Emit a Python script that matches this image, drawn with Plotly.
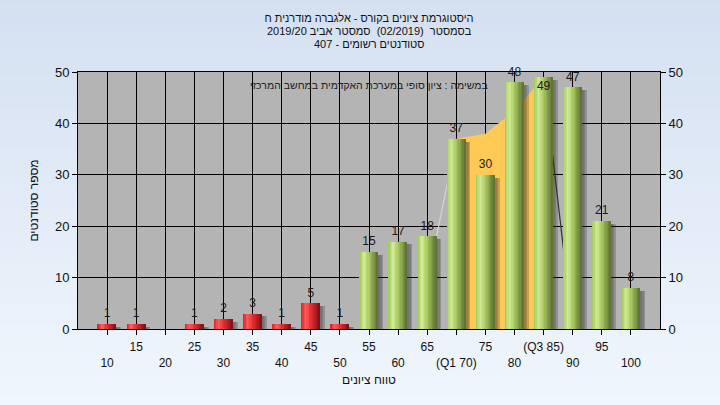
import plotly.graph_objects as go

# ---------------- data ----------------
grades = [10, 15, 20, 25, 30, 35, 40, 45, 50, 55, 60, 65, 70, 75, 80, 85, 90, 95, 100]
counts = [1, 1, 0, 1, 2, 3, 1, 5, 1, 15, 17, 18, 37, 30, 48, 49, 47, 21, 8]
pass_grade = 55
q1_grade = 70
q3_grade = 85
y_ticks = [0, 10, 20, 30, 40, 50]
area_x = [65, 70, 75, 80, 85, 90]
area_y = [9, 37, 38, 42.5, 49, 0]

title_lines = [
    "היסטוגרמת ציונים בקורס - אלגברה מודרנית ח",
    "בסמסטר  (02/2019)  סמסטר אביב 2019/20",
    "סטודנטים רשומים - 407",
]
note_text = "במשימה : ציון סופי במערכת האקדמית במחשב המרכזי"
x_title = "טווח ציונים"
y_title = "מספר סטודנטים"

# ---------------- styling helpers ----------------
FONT = "Liberation Sans, DejaVu Sans, sans-serif"
Y_MAX = 50
BAR_W = 3.15
N_SLICES = 14
LABEL_LIFT = 0.7

green_stops = [(0.0, (160, 200, 86)), (0.25, (208, 234, 150)), (0.5, (172, 204, 100)),
               (0.8, (124, 150, 70)), (1.0, (90, 110, 46))]
red_stops = [(0.0, (214, 30, 38)), (0.25, (255, 92, 92)), (0.5, (232, 48, 52)),
             (0.8, (176, 28, 32)), (1.0, (120, 16, 20))]


def interp(stops, t):
    for (t0, c0), (t1, c1) in zip(stops[:-1], stops[1:]):
        if t0 <= t <= t1:
            f = (t - t0) / (t1 - t0) if t1 > t0 else 0
            return "rgb(%d,%d,%d)" % tuple(round(a + (b - a) * f) for a, b in zip(c0, c1))
    return "rgb(%d,%d,%d)" % stops[-1][1]


def tick_label(g, i):
    lab = str(g)
    if g == q1_grade:
        lab = "(Q1 %d)" % g
    if g == q3_grade:
        lab = "(Q3 %d)" % g
    return ("\u00a0<br>" + lab) if i % 2 == 0 else lab


fig = go.Figure()

# yellow inter-quartile area (drawn on base subplot, below the bars)
i1 = area_x.index(q1_grade)
i3 = area_x.index(q3_grade)
fig.add_trace(go.Scatter(x=area_x[i1:i3 + 1], y=area_y[i1:i3 + 1], mode="lines",
                         line=dict(width=0), fill="tozeroy", fillcolor="#ffc955",
                         hoverinfo="skip", showlegend=False, xaxis="x", yaxis="y"))
fig.add_trace(go.Scatter(x=area_x[:i1 + 1], y=area_y[:i1 + 1], mode="lines",
                         line=dict(width=1.2, color="#d6d6d6"), hoverinfo="skip",
                         showlegend=False, xaxis="x", yaxis="y"))
fig.add_trace(go.Scatter(x=area_x[i3:], y=area_y[i3:], mode="lines",
                         line=dict(width=1.2, color="#333333"), hoverinfo="skip",
                         showlegend=False, xaxis="x", yaxis="y"))

# soft shadows
for dx, op in [(0.35, 0.12), (0.6, 0.18), (0.85, 0.25)]:
    fig.add_trace(go.Bar(x=grades, y=[c + 0.45 for c in counts], base=-1.0,
                         width=BAR_W, offset=-BAR_W / 2 + dx,
                         marker=dict(color="rgba(40,40,40,%.2f)" % op, line=dict(width=0)),
                         hoverinfo="skip", showlegend=False, xaxis="x", yaxis="y2"))

# gradient cylinder bars built from slices
sw = BAR_W / N_SLICES
for k in range(N_SLICES):
    t = (k + 0.5) / N_SLICES
    cols = [interp(red_stops if g < pass_grade else green_stops, t) for g in grades]
    fig.add_trace(go.Bar(x=grades, y=counts, width=sw * 1.02,
                         offset=-BAR_W / 2 + k * sw,
                         marker=dict(color=cols, line=dict(width=0)),
                         hoverinfo="skip", showlegend=False, xaxis="x", yaxis="y2"))

# value labels
label_text = [str(c) if c > 0 else "" for c in counts]
label_inside = [c + 2 > Y_MAX for c in counts]
label_pos = ["bottom center" if ins else "top center" for ins in label_inside]
label_y = [c - LABEL_LIFT if ins else c + LABEL_LIFT for c, ins in zip(counts, label_inside)]
fig.add_trace(go.Scatter(x=grades, y=label_y, mode="text", text=label_text,
                         textposition=label_pos,
                         textfont=dict(family=FONT, size=12, color="#1a1a1a"),
                         cliponaxis=False, hoverinfo="skip", showlegend=False,
                         xaxis="x", yaxis="y2"))

# paper gradient background bands
n_b = 40
top_c, bot_c = (212, 224, 241), (240, 246, 253)
shapes = []
for b in range(n_b):
    f = b / (n_b - 1)
    c = tuple(round(a + (bb - a) * f) for a, bb in zip(top_c, bot_c))
    shapes.append(dict(type="rect", xref="paper", yref="paper",
                       x0=-0.2, x1=1.2, y0=1.3 - (b + 1) * 1.6 / n_b, y1=1.3 - b * 1.6 / n_b + 0.002,
                       fillcolor="rgb(%d,%d,%d)" % c, line=dict(width=0), layer="below"))
shapes.append(dict(type="rect", xref="x domain", yref="y domain", x0=0, x1=1, y0=0, y1=1,
                   fillcolor="#b4b4b4", line=dict(width=0), layer="below"))

axis_font = dict(family=FONT, size=12, color="#111111")
title_font = dict(family=FONT, size=11, color="#111111")

# title: first line as layout title, following lines as annotations 13 px apart
annotations = []
for j, line in enumerate(title_lines[1:], start=1):
    annotations.append(dict(text=line, xref="paper", yref="paper", x=0.5, y=1,
                            xanchor="center", yanchor="middle", yshift=54 - 13 * j,
                            showarrow=False, font=title_font))
annotations.append(dict(text=note_text, xref="paper", yref="paper", x=0.5, y=1,
                        xanchor="center", yanchor="top", yshift=-5, showarrow=False,
                        font=dict(family=FONT, size=10.5, color="#222222")))

fig.update_layout(
    width=720, height=405,
    margin=dict(l=78, r=60, t=72, b=76),
    paper_bgcolor="#e6eef9",
    plot_bgcolor="#b4b4b4",
    barmode="overlay",
    bargap=0,
    showlegend=False,
    font=dict(family=FONT, size=12, color="#111111"),
    title=dict(text=title_lines[0], x=0.5, xref="paper", xanchor="center",
               y=1 - 18 / 405, yref="container", yanchor="middle",
               font=title_font),
    xaxis=dict(range=[5, 105], tickvals=grades,
               ticktext=[tick_label(g, i) for i, g in enumerate(grades)],
               tickangle=0, ticklabelstandoff=2,
               ticks="outside", ticklen=5, tickcolor="black", tickfont=axis_font,
               showgrid=True, gridcolor="black", gridwidth=1,
               showline=True, linecolor="black", linewidth=1, mirror=True,
               zeroline=False, automargin=False,
               title=dict(text=x_title, font=axis_font, standoff=6)),
    yaxis=dict(range=[0, Y_MAX], tickvals=y_ticks, ticks="outside", ticklen=5,
               tickcolor="black", tickfont=dict(family=FONT, size=13, color="#111111"),
               showgrid=True, gridcolor="black", gridwidth=1,
               showline=True, linecolor="black", linewidth=1,
               zeroline=False, automargin=False,
               title=dict(text=y_title, font=axis_font, standoff=13)),
    yaxis2=dict(range=[0, Y_MAX], tickvals=y_ticks, ticks="outside", ticklen=5,
                tickcolor="black", tickfont=dict(family=FONT, size=13, color="#111111"),
                overlaying="y", side="right", anchor="x",
                showgrid=False, showline=True, linecolor="black", linewidth=1,
                zeroline=False, automargin=False),
    annotations=annotations,
    shapes=shapes,
)

fig.write_html("out.html", config={"displayModeBar": False},
               post_script="document.body.style.margin='0';document.body.style.padding='0';")
